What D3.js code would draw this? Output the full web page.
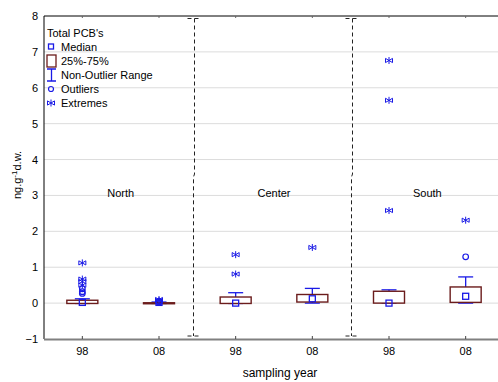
<!DOCTYPE html>
<html>
<head>
<meta charset="utf-8">
<script src="https://cdn.jsdelivr.net/npm/d3@7"></script>
<style>
  body { margin: 0; background: #fff; }
  text { font-family: "Liberation Sans", Arial, sans-serif; }
</style>
</head>
<body>
<div id="chart"></div>
<script>
/* DATA */
const years = ["98", "08", "98", "08", "98", "08"];
const regions = ["North", "Center", "South"];
const yTicks = [-1, 0, 1, 2, 3, 4, 5, 6, 7, 8];

const q1 = [-0.01, -0.01, -0.01, 0.03, 0.0, 0.02];
const q3 = [0.08, 0.01, 0.17, 0.24, 0.33, 0.45];
const medians = [0.02, 0.02, 0.0, 0.12, 0.0, 0.19];
const whiskLo = [-0.01, -0.01, -0.01, 0.0, 0.0, 0.0];
const whiskHi = [0.12, 0.03, 0.29, 0.41, 0.37, 0.73];
const outliers = [[0.4, 0.32, 0.27], [0.05, 0.03], [], [], [], [1.29]];
const extremes = [[1.12, 0.67, 0.6, 0.5], [0.1, 0.07], [1.35, 0.81], [1.55], [6.76, 5.65, 2.58], [2.31]];

/* CONSTANTS */
const width = 498, height = 382;
const margin = { top: 16, bottom: 43, left: 44 };
const blue = "#1a1ae6", brown = "#6b1c1c";

const svg = d3.select("#chart").append("svg")
  .attr("width", width).attr("height", height);

const xScale = d3.scaleBand()
  .domain(d3.range(years.length))
  .range([margin.left, 504]);

const yScale = d3.scaleLinear()
  .domain([-1, 8])
  .range([height - margin.bottom, margin.top]);

const cx = i => xScale(i) + xScale.bandwidth() / 2;

// gridlines
svg.append("g")
  .selectAll("line")
  .data(yTicks.filter(d => d > -1 && d < 8))
  .join("line")
  .attr("x1", margin.left).attr("x2", width)
  .attr("y1", d => yScale(d)).attr("y2", d => yScale(d))
  .attr("stroke", "#dcdcdc");

// y axis
const yAxis = d3.axisLeft(yScale).tickValues(yTicks).tickSize(0).tickPadding(6);
svg.append("g")
  .attr("transform", `translate(${margin.left},0)`)
  .call(yAxis)
  .call(g => g.select(".domain").remove())
  .call(g => g.selectAll("text").attr("font-size", 11).attr("fill", "#000"));

svg.append("line")
  .attr("x1", margin.left).attr("x2", margin.left)
  .attr("y1", margin.top).attr("y2", yScale(-1))
  .attr("stroke", "#000");

// top border
svg.append("line")
  .attr("x1", margin.left).attr("x2", width)
  .attr("y1", margin.top).attr("y2", margin.top)
  .attr("stroke", "#000");
svg.append("g").selectAll("line")
  .data(d3.range(years.length))
  .join("line")
  .attr("x1", cx).attr("x2", cx)
  .attr("y1", margin.top).attr("y2", margin.top + 2)
  .attr("stroke", "#666");

// bottom axis
const xAxis = d3.axisBottom(xScale).tickFormat(i => years[i]).tickSize(0).tickPadding(8);
svg.append("g")
  .attr("transform", `translate(0,${yScale(-1)})`)
  .call(xAxis)
  .call(g => g.select(".domain").remove())
  .call(g => g.selectAll("text").attr("font-size", 11).attr("fill", "#000"));
svg.append("line")
  .attr("x1", margin.left).attr("x2", width)
  .attr("y1", yScale(-1) + 0.5).attr("y2", yScale(-1) + 0.5)
  .attr("stroke", "#808080").attr("stroke-width", 2);
svg.append("g").selectAll("line")
  .data(d3.range(years.length))
  .join("line")
  .attr("x1", cx).attr("x2", cx)
  .attr("y1", yScale(-1) - 3).attr("y2", yScale(-1))
  .attr("stroke", "#444");

// axis titles
svg.append("text")
  .attr("x", 280).attr("y", 377)
  .attr("text-anchor", "middle")
  .attr("font-size", 12)
  .text("sampling year");

const yl = svg.append("text")
  .attr("transform", `translate(21,175) rotate(-90)`)
  .attr("text-anchor", "middle")
  .attr("font-size", 11);
yl.append("tspan").text("ng.g");
yl.append("tspan").attr("dy", -4).attr("font-size", 8).text("-1");
yl.append("tspan").attr("dy", 4).text("d.w.");

// region labels
regions.forEach((r, k) => {
  svg.append("text")
    .attr("x", (cx(2 * k) + cx(2 * k + 1)) / 2)
    .attr("y", 197)
    .attr("text-anchor", "middle")
    .attr("font-size", 11)
    .text(r);
});

// dashed braces between regions (slightly off the band boundary, as in the original)
[[1, -3], [3, 1.5]].forEach(([i, off]) => {
  const x = Math.round(xScale(i) + xScale.bandwidth() + off) + 0.5;
  const top = margin.top + 2.5, bot = yScale(-1) - 3, mid = 177;
  const p = d3.path();
  p.moveTo(x - 7, top); p.lineTo(x + 7, top);
  p.moveTo(x, top); p.lineTo(x, mid - 3); p.lineTo(x - 1, mid); p.lineTo(x - 1, bot);
  p.moveTo(x - 7, bot); p.lineTo(x + 7, bot);
  svg.append("path")
    .attr("d", p.toString())
    .attr("fill", "none")
    .attr("stroke", "#222")
    .attr("stroke-dasharray", "4,3");
});

// boxes
const boxW = 31, capW = 15;
const boxes = svg.append("g");
d3.range(years.length).forEach(i => {
  const x = cx(i);
  const g = boxes.append("g");
  // whiskers
  g.append("line")
    .attr("x1", x).attr("x2", x)
    .attr("y1", yScale(whiskLo[i])).attr("y2", yScale(whiskHi[i]))
    .attr("stroke", blue).attr("stroke-width", 1.3);
  [whiskLo[i], whiskHi[i]].forEach(v => {
    g.append("line")
      .attr("x1", x - capW / 2).attr("x2", x + capW / 2)
      .attr("y1", yScale(v)).attr("y2", yScale(v))
      .attr("stroke", blue).attr("stroke-width", 1.3);
  });
  g.append("rect")
    .attr("x", x - boxW / 2)
    .attr("y", yScale(q3[i]))
    .attr("width", boxW)
    .attr("height", Math.max(1, yScale(q1[i]) - yScale(q3[i])))
    .attr("fill", "#fff")
    .attr("stroke", brown).attr("stroke-width", 1.4);
  g.append("rect")
    .attr("x", x - 3).attr("y", yScale(medians[i]) - 3)
    .attr("width", 6).attr("height", 6)
    .attr("fill", "none").attr("stroke", blue).attr("stroke-width", 1.3);
  outliers[i].forEach(v => {
    g.append("circle")
      .attr("cx", x).attr("cy", yScale(v)).attr("r", 2.8)
      .attr("fill", "none").attr("stroke", blue).attr("stroke-width", 1.2);
  });
  extremes[i].forEach(v => drawStar(g, x, yScale(v)));
});

function drawStar(g, x, y) {
  const r = 3.5;
  const s = g.append("g").attr("stroke", blue).attr("stroke-width", 1);
  s.append("line").attr("x1", x).attr("x2", x).attr("y1", y - r).attr("y2", y + r);
  s.append("line").attr("x1", x - r).attr("x2", x + r).attr("y1", y - r * 0.6).attr("y2", y + r * 0.6);
  s.append("line").attr("x1", x - r).attr("x2", x + r).attr("y1", y + r * 0.6).attr("y2", y - r * 0.6);
  s.append("line").attr("x1", x - r).attr("x2", x - r).attr("y1", y - r * 0.6).attr("y2", y + r * 0.6);
  s.append("line").attr("x1", x + r).attr("x2", x + r).attr("y1", y - r * 0.6).attr("y2", y + r * 0.6);
}

// legend
const lg = svg.append("g").attr("transform", "translate(47,0)");
lg.append("text").attr("x", 0).attr("y", 37).attr("font-size", 11).text("Total PCB's");
const items = ["Median", "25%-75%", "Non-Outlier Range", "Outliers", "Extremes"];
items.forEach((t, k) => {
  const y = 47 + k * 14;
  lg.append("text").attr("x", 14).attr("y", y + 4).attr("font-size", 11).text(t);
  const sx = 4;
  if (k === 0) {
    lg.append("rect").attr("x", sx - 2.5).attr("y", y - 3).attr("width", 5).attr("height", 5)
      .attr("fill", "none").attr("stroke", blue).attr("stroke-width", 1.3);
  } else if (k === 1) {
    lg.append("rect").attr("x", 0).attr("y", y - 6).attr("width", 9).attr("height", 12)
      .attr("fill", "none").attr("stroke", brown).attr("stroke-width", 1.3);
  } else if (k === 2) {
    const p = d3.path();
    p.moveTo(0, y - 6); p.lineTo(9, y - 6);
    p.moveTo(4.5, y - 6); p.lineTo(4.5, y + 6);
    p.moveTo(0, y + 6); p.lineTo(9, y + 6);
    lg.append("path").attr("d", p.toString()).attr("stroke", blue).attr("stroke-width", 1.3).attr("fill", "none");
  } else if (k === 3) {
    lg.append("circle").attr("cx", sx).attr("cy", y).attr("r", 2.5)
      .attr("fill", "none").attr("stroke", blue).attr("stroke-width", 1.2);
  } else {
    drawStar(lg, sx, y);
  }
});
</script>
</body>
</html>
